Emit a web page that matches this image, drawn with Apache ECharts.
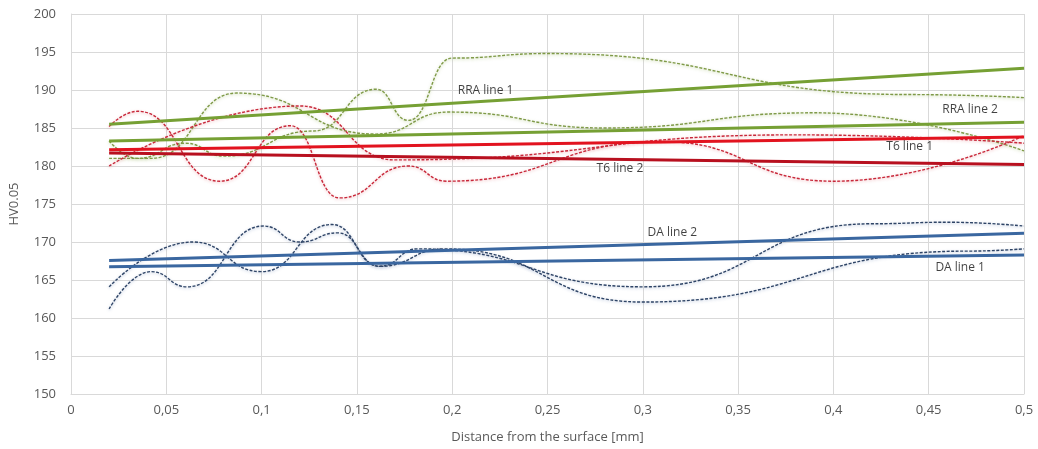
<!DOCTYPE html>
<html><head><meta charset="utf-8">
<script src="https://cdn.jsdelivr.net/npm/echarts@6/dist/echarts.min.js"></script>
<style>html,body{margin:0;padding:0;background:#fff;}#c{width:1038px;height:449px;}</style>
</head><body><div id="c"></div>
<script>
// ---- tick labels ----
const xTickLabels = ['0','0,05','0,1','0,15','0,2','0,25','0,3','0,35','0,4','0,45','0,5'];
const yTickLabels = ['150','155','160','165','170','175','180','185','190','195','200'];

// ---- measured curves (dotted) ----
const rraAx = [0.02, 0.035, 0.06, 0.08, 0.127, 0.16, 0.177, 0.2, 0.25, 0.44, 0.5];
const rraAy = [183.3, 181.0, 183.0, 181.3, 184.6, 190.1, 186.0, 194.2, 194.8, 189.4, 189.0];
const rraBx = [0.02, 0.042, 0.087, 0.16, 0.198, 0.28, 0.39, 0.5];
const rraBy = [181.0, 181.0, 189.6, 184.2, 187.1, 185.0, 187.0, 182.0];

const t6Ax = [0.02, 0.035, 0.078, 0.115, 0.141, 0.177, 0.197, 0.31, 0.4, 0.5];
const t6Ay = [185.2, 187.2, 178.0, 185.3, 175.8, 180.0, 178.0, 183.2, 178.0, 184.0];
const t6Bx = [0.02, 0.12, 0.17, 0.38, 0.5];
const t6By = [180.0, 187.9, 180.8, 184.1, 183.0];

const daAx = [0.02, 0.064, 0.1, 0.137, 0.162, 0.182, 0.3, 0.42, 0.46, 0.5];
const daAy = [164.1, 170.0, 166.1, 172.3, 166.8, 169.1, 164.1, 172.4, 172.6, 172.1];
const daBx = [0.02, 0.042, 0.061, 0.101, 0.12, 0.14, 0.162, 0.196, 0.3, 0.47, 0.5];
const daBy = [161.2, 166.1, 164.1, 172.1, 170.0, 171.2, 166.8, 169.1, 162.1, 168.8, 169.1];

// ---- linear trend lines (start / end) ----
const trendX = [0.02, 0.5];
const rraLine1 = [185.5, 192.85];
const rraLine2 = [183.3, 185.75];
const t6Line1 = [182.15, 183.8];
const t6Line2 = [181.7, 180.2];
const daLine2 = [167.55, 171.15];
const daLine1 = [166.75, 168.3];

// ---- trend line labels ----
const labelNames = ['RRA line 1', 'RRA line 2', 'T6 line 1', 'T6 line 2', 'DA line 2', 'DA line 1'];
const labelX = [0.2175, 0.4717, 0.44, 0.288, 0.3155, 0.4665];
const labelY = [189.9, 187.4, 182.5, 179.7, 171.2, 166.6];

const zip = (xs, ys) => xs.map((x, i) => [x, ys[i]]);
const FONT = 'Open Sans';

function dotted(name, xs, ys, color, glow) {
  return {
    name, type: 'line', data: zip(xs, ys), smooth: 0.5, smoothMonotone: 'x',
    symbol: 'none', silent: true, z: 2,
    lineStyle: { color, width: 1.4, type: [3, 1.5], shadowColor: glow, shadowBlur: 3, shadowOffsetY: 1 }
  };
}
function trend(name, ys, color) {
  return {
    name, type: 'line', data: zip(trendX, ys), symbol: 'none', silent: true, z: 3,
    lineStyle: { color, width: 3 }
  };
}

const chart = echarts.init(document.getElementById('c'), null, { renderer: 'canvas' });
chart.setOption({
  animation: false,
  backgroundColor: '#ffffff',
  grid: { left: 70, right: 14, top: 14, bottom: 55, containLabel: false },
  xAxis: {
    type: 'value', min: 0, max: 0.5, interval: 0.05,
    name: 'Distance from the surface [mm]', nameLocation: 'middle', nameGap: 37,
    nameTextStyle: { color: '#595959', fontFamily: FONT, fontSize: 13 },
    axisLine: { show: true, lineStyle: { color: '#d9d9d9' } },
    axisTick: { show: false },
    axisLabel: { color: '#595959', fontFamily: FONT, fontSize: 13, margin: 10,
      formatter: v => xTickLabels[Math.round(v / 0.05)] },
    splitLine: { show: true, lineStyle: { color: '#d9d9d9', width: 1 } }
  },
  yAxis: {
    type: 'value', min: 150, max: 200, interval: 5,
    name: 'HV0.05', nameLocation: 'middle', nameGap: 50, nameRotate: 90,
    nameTextStyle: { color: '#595959', fontFamily: FONT, fontSize: 13 },
    axisLine: { show: true, lineStyle: { color: '#d9d9d9' } },
    axisTick: { show: false },
    axisLabel: { color: '#595959', fontFamily: FONT, fontSize: 13, margin: 15,
      formatter: v => yTickLabels[Math.round((v - 150) / 5)] },
    splitLine: { show: true, lineStyle: { color: '#d9d9d9', width: 1 } }
  },
  series: [
    dotted('RRA 1', rraAx, rraAy, '#7f9a48', 'rgba(150,180,90,0.5)'),
    dotted('RRA 2', rraBx, rraBy, '#7f9a48', 'rgba(150,180,90,0.5)'),
    dotted('T6 1', t6Ax, t6Ay, '#c8283a', 'rgba(220,90,100,0.45)'),
    dotted('T6 2', t6Bx, t6By, '#c8283a', 'rgba(220,90,100,0.45)'),
    dotted('DA 1', daAx, daAy, '#2e4466', 'rgba(90,120,170,0.45)'),
    dotted('DA 2', daBx, daBy, '#2e4466', 'rgba(90,120,170,0.45)'),
    trend('RRA line 1', rraLine1, '#76a034'),
    trend('RRA line 2', rraLine2, '#76a034'),
    trend('T6 line 1', t6Line1, '#e2131f'),
    trend('T6 line 2', t6Line2, '#b8101f'),
    trend('DA line 2', daLine2, '#3a67a0'),
    trend('DA line 1', daLine1, '#3a67a0'),
    {
      name: 'labels', type: 'scatter', symbolSize: 0, silent: true, z: 5,
      data: labelNames.map((n, i) => ({ name: n, value: [labelX[i], labelY[i]] })),
      label: { show: true, position: 'inside', formatter: '{b}', color: '#111111', fontFamily: FONT, fontSize: 12 }
    }
  ]
});
</script></body></html>
